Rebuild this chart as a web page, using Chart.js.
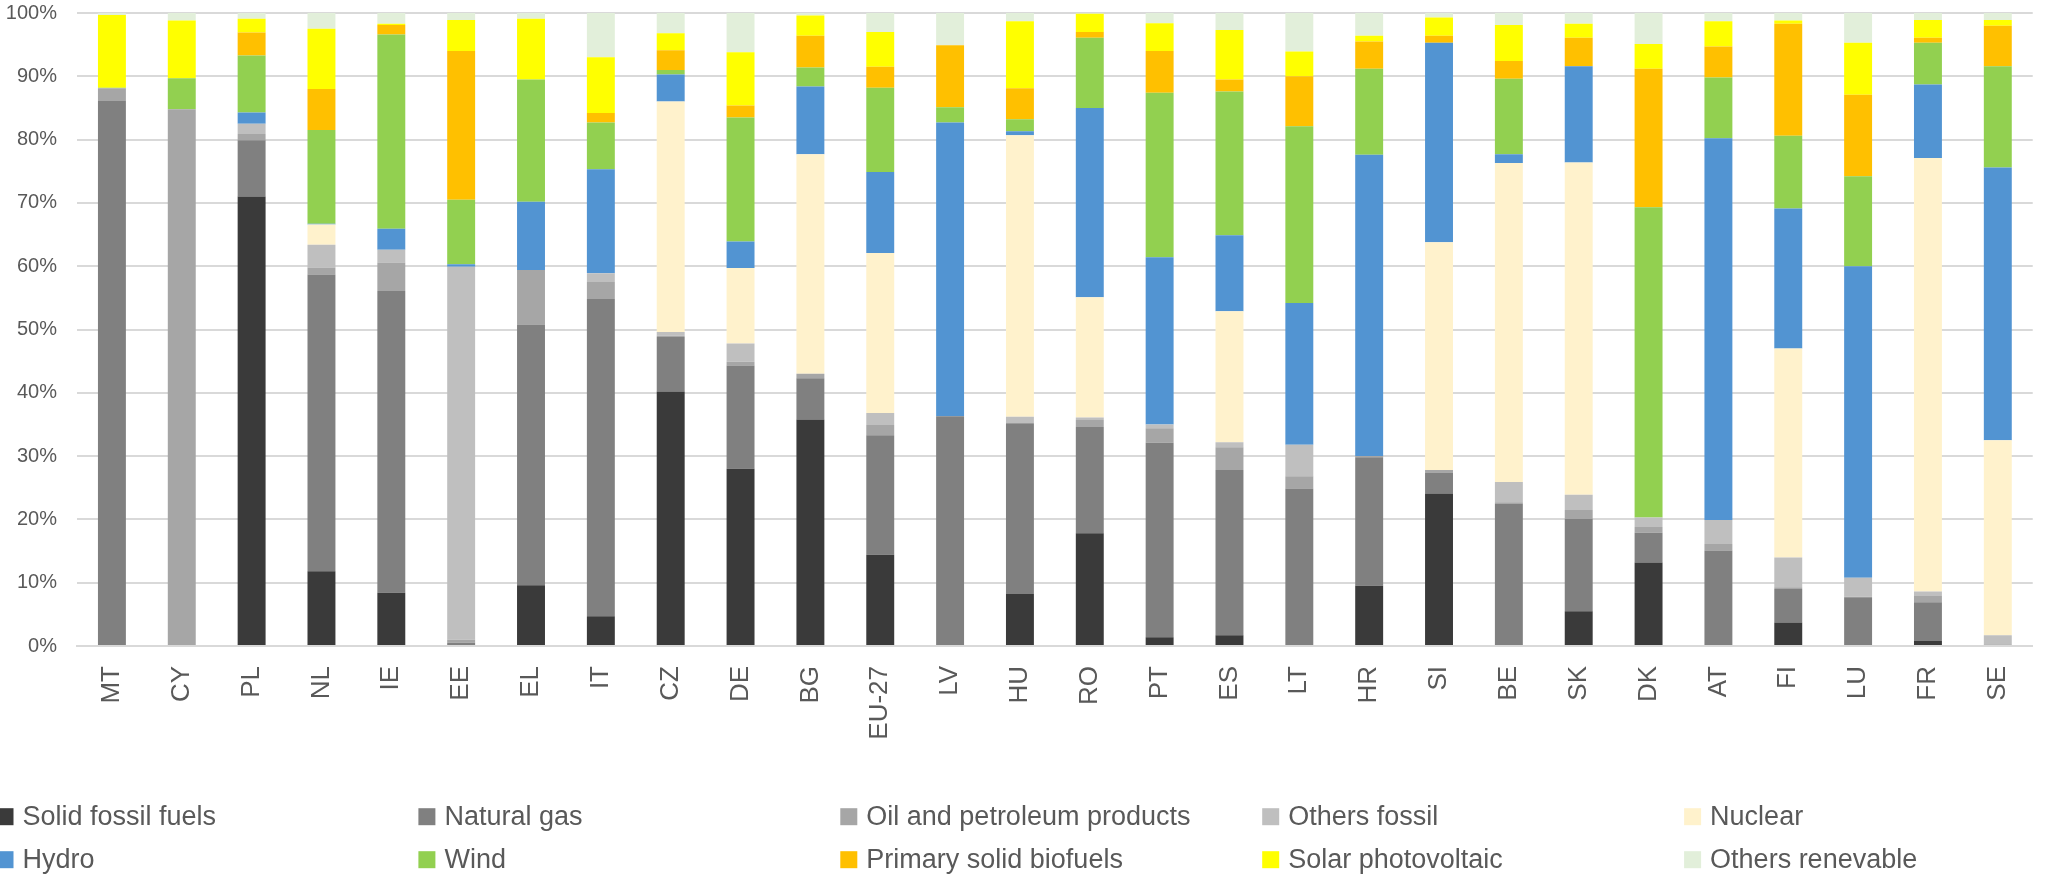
<!DOCTYPE html>
<html>
<head>
<meta charset="utf-8">
<title>Electricity generation mix by fuel</title>
<script src="https://cdn.jsdelivr.net/npm/chart.js@4/dist/chart.umd.min.js"></script>
<style>
  html, body { margin: 0; padding: 0; background: #ffffff; }
  #mix { display: block; }
</style>
</head>
<body>
<canvas id="mix" width="2049" height="876"></canvas>
<script>
// Countries, ordered as on the axis
const countries = ['MT','CY','PL','NL','IE','EE','EL','IT','CZ','DE','BG','EU-27','LV','HU','RO','PT','ES','LT','HR','SI','BE','SK','DK','AT','FI','LU','FR','SE'];

// Share of each source in gross electricity generation (%)
const solidFossil     = [0, 0, 71.0, 11.8, 8.4, 0, 9.6, 4.7, 40.2, 28.0, 35.8, 14.4, 0, 8.2, 17.8, 1.4, 1.7, 0, 9.5, 24.1, 0, 5.5, 13.2, 0, 3.7, 0, 0.8, 0];
const naturalGas      = [86.1, 0, 8.9, 46.9, 47.7, 0.5, 41.2, 50.1, 8.6, 16.3, 6.5, 18.9, 36.3, 27.0, 16.8, 30.7, 26.1, 24.9, 20.3, 3.3, 22.5, 14.6, 4.7, 15.1, 5.3, 7.7, 6.1, 0.2];
const oilProducts     = [2.0, 84.8, 1.0, 1.1, 4.5, 0.5, 8.6, 2.7, 0.2, 0.6, 0.7, 1.6, 0, 0, 1.1, 2.3, 3.6, 1.9, 0.2, 0.4, 0.2, 1.4, 0.9, 1.0, 0.3, 0.1, 1.0, 0];
const othersFossil    = [0, 0, 1.6, 3.6, 2.0, 58.9, 0, 1.4, 0.6, 2.9, 0, 1.9, 0, 1.0, 0.4, 0.6, 0.8, 5.0, 0, 0, 3.2, 2.4, 1.5, 3.8, 4.7, 3.0, 0.7, 1.5];
const nuclear         = [0, 0, 0, 3.2, 0, 0, 0, 0, 36.4, 11.9, 34.7, 25.3, 0, 44.5, 19.0, 0, 20.7, 0, 0, 36.0, 50.4, 52.5, 0, 0, 33.0, 0, 68.5, 30.8];
const hydro           = [0, 0, 1.8, 0.1, 3.3, 0.4, 10.8, 16.4, 4.3, 4.2, 10.7, 12.8, 46.4, 0.6, 29.9, 26.4, 12.0, 22.4, 47.6, 31.5, 1.4, 15.2, 0, 60.3, 22.1, 49.2, 11.6, 43.1];
const wind            = [0.1, 4.9, 9.0, 14.8, 30.7, 10.2, 19.3, 7.4, 0.7, 19.6, 3.0, 13.3, 2.4, 1.9, 11.1, 26.0, 22.7, 27.9, 13.6, 0, 11.9, 0, 49.0, 9.6, 11.5, 14.2, 6.6, 16.0];
const solidBiofuels   = [0, 0, 3.6, 6.5, 1.5, 23.5, 0, 1.5, 3.1, 1.9, 5.0, 3.3, 9.8, 4.9, 0.9, 6.6, 1.9, 7.9, 4.3, 1.1, 2.8, 4.5, 21.9, 4.9, 17.7, 12.9, 0.8, 6.4];
const solarPV         = [11.5, 9.1, 2.2, 9.5, 0.2, 4.9, 9.6, 8.8, 2.7, 8.4, 3.2, 5.5, 0, 10.6, 2.9, 4.4, 7.8, 3.9, 0.9, 2.9, 5.7, 2.2, 3.9, 4.0, 0.5, 8.2, 2.8, 0.9];
const othersRenewable = [0.3, 1.2, 0.9, 2.5, 1.7, 1.1, 0.9, 7.0, 3.2, 6.2, 0.4, 3.0, 5.1, 1.3, 0.1, 1.6, 2.7, 6.1, 3.6, 0.7, 1.9, 1.7, 4.9, 1.3, 1.2, 4.7, 1.1, 1.1];

// Series names, in stacking order (bottom to top)
const seriesNames = ['Solid fossil fuels', 'Natural gas', 'Oil and petroleum products', 'Others fossil', 'Nuclear',
                     'Hydro', 'Wind', 'Primary solid biofuels', 'Solar photovoltaic', 'Others renevable'];
const seriesValues = [solidFossil, naturalGas, oilProducts, othersFossil, nuclear,
                      hydro, wind, solidBiofuels, solarPV, othersRenewable];
const seriesColors = ['#3A3A3A', '#808080', '#A6A6A6', '#BFBFBF', '#FFF2CC',
                      '#5294D2', '#92D050', '#FFC000', '#FFFF00', '#E2EFDA'];

// Y-axis tick values
const percentTicks = [0, 10, 20, 30, 40, 50, 60, 70, 80, 90, 100];

const FONT = "'Liberation Sans', Arial, 'DejaVu Sans', sans-serif";
const TEXT_COLOR = '#595959';
const GRID_COLOR = '#D9D9D9';

// Legend laid out as a fixed grid of five columns below the axis labels
const gridLegend = {
  id: 'gridLegend',
  afterDraw(chart, args, opts) {
    const ctx = chart.ctx;
    ctx.save();
    ctx.font = `${opts.fontSize}px ${FONT}`;
    ctx.textBaseline = 'middle';
    ctx.textAlign = 'left';
    chart.data.datasets.forEach((ds, i) => {
      const col = i % opts.columns;
      const row = Math.floor(i / opts.columns);
      const x = opts.left + col * opts.columnWidth;
      const y = opts.rowCenters[row];
      ctx.fillStyle = ds.backgroundColor;
      ctx.fillRect(x, y - opts.box / 2, opts.box, opts.box);
      ctx.fillStyle = TEXT_COLOR;
      ctx.fillText(ds.label, x + opts.box + opts.gap, y + 1);
    });
    ctx.restore();
  }
};

new Chart(document.getElementById('mix'), {
  type: 'bar',
  data: {
    labels: countries,
    datasets: seriesNames.map((name, i) => ({
      label: name,
      data: seriesValues[i],
      backgroundColor: seriesColors[i],
      borderWidth: 0,
      barPercentage: 0.4,
      categoryPercentage: 1.0
    }))
  },
  options: {
    responsive: false,
    animation: false,
    layout: { padding: { top: 13, right: -3, left: 0, bottom: 0 } },
    plugins: {
      legend: { display: false },
      tooltip: { enabled: false },
      gridLegend: {
        columns: 5,
        left: -3.5,
        columnWidth: 421.9,
        rowCenters: [816.7, 859.7],
        box: 17,
        gap: 9,
        fontSize: 27
      }
    },
    scales: {
      x: {
        stacked: true,
        grid: { display: false, drawTicks: false },
        border: { display: true, color: GRID_COLOR, width: 2 },
        ticks: {
          autoSkip: false,
          maxRotation: 90,
          minRotation: 90,
          padding: 20,
          color: TEXT_COLOR,
          font: { family: FONT, size: 26 }
        },
        afterFit(scale) { scale.height = 230; }
      },
      y: {
        stacked: true,
        min: percentTicks[0],
        max: percentTicks[percentTicks.length - 1],
        afterBuildTicks(scale) { scale.ticks = percentTicks.map(v => ({ value: v })); },
        grid: { color: GRID_COLOR, lineWidth: 2, drawTicks: false },
        border: { display: false },
        ticks: {
          padding: 20,
          color: TEXT_COLOR,
          font: { family: FONT, size: 20 },
          callback: v => v + '%'
        },
        afterFit(scale) {
          scale.width = 77;
          scale.paddingTop = 0;
          scale.paddingBottom = 0;
        }
      }
    }
  },
  plugins: [gridLegend]
});
</script>
</body>
</html>
